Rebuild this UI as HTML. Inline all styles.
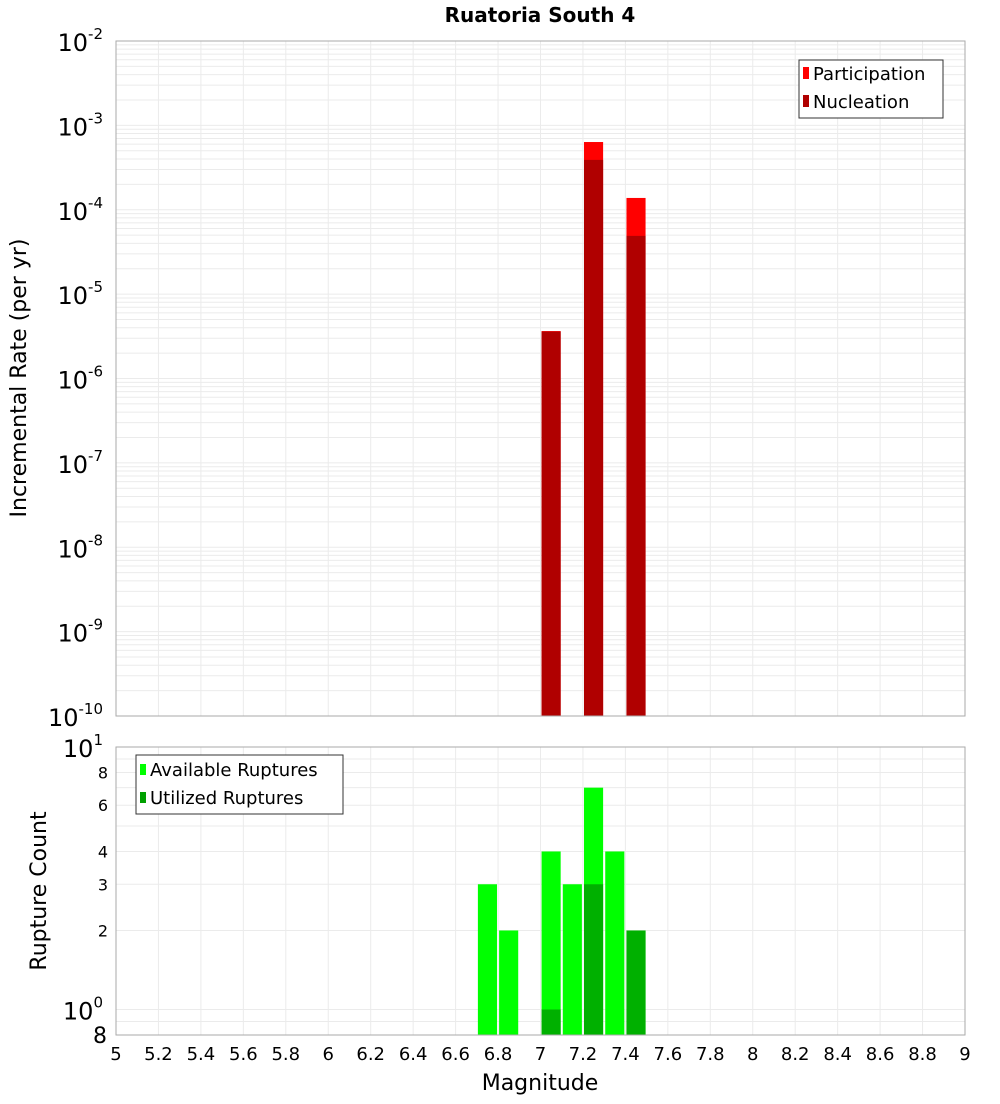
<!DOCTYPE html>
<html><head><meta charset="utf-8"><style>
body{margin:0;background:#fff;font-family:"DejaVu Sans","Liberation Sans",sans-serif}
</style></head><body>
<svg id="chart" width="1000" height="1100" xmlns="http://www.w3.org/2000/svg" font-family="DejaVu Sans, Liberation Sans, sans-serif">
<text x="540" y="22" text-anchor="middle" font-size="20" font-weight="bold">Ruatoria South 4</text>
<g id="topg"></g><g id="botg"></g>
<text transform="translate(26,378) rotate(-90)" text-anchor="middle" font-size="22">Incremental Rate (per yr)</text>
<text transform="translate(46,891) rotate(-90)" text-anchor="middle" font-size="22">Rupture Count</text>
<text x="540" y="1090" text-anchor="middle" font-size="22">Magnitude</text>
</svg>
<script>
const mags=[6.75,6.85,7.05,7.15,7.25,7.35,7.45];
const participation=[0,0,3.65e-6,0,6.35e-4,0,1.38e-4];
const nucleation=[0,0,3.6e-6,0,3.9e-4,0,4.9e-5];
const available=[3,2,4,3,7,4,2];
const utilized=[0,0,1,0,3,0,2];
const xTicks=[5,5.2,5.4,5.6,5.8,6,6.2,6.4,6.6,6.8,7,7.2,7.4,7.6,7.8,8,8.2,8.4,8.6,8.8,9];
const NS="http://www.w3.org/2000/svg";
const L=116,R=965;
const x=m=>L+(m-5)*(R-L)/4;
const yT=v=>41+(-2-Math.log10(v))*84.375;
const yB=v=>747+(1-Math.log10(v))*262.5;
const bw=0.09;
function el(p,t,a){const e=document.createElementNS(NS,t);for(const k in a)e.setAttribute(k,a[k]);p.appendChild(e);return e;}
const topG=document.getElementById('topg'),botG=document.getElementById('botg');
for(let m of xTicks){const g=el(topG,'line',{x1:x(m),x2:x(m),y1:41,y2:716,stroke:'#ebebeb'});

}
for(let e=-10;e<-2;e++)for(let k=1;k<10;k++){const yy=yT(k*Math.pow(10,e));const g=el(topG,'line',{x1:L,x2:R,y1:yy,y2:yy,stroke:'#ebebeb'});

}
for(let e=-10;e<=-2;e++){const t=el(topG,'text',{x:103,y:yT(Math.pow(10,e))+10,'text-anchor':'end','font-size':24});


t.innerHTML='10<tspan dy="-12" font-size="15">'+e+'</tspan>';}
mags.forEach((m,i)=>{
if(participation[i]>0){const r=el(topG,'rect',{x:x(m-bw/2),y:yT(participation[i]),width:x(m+bw/2)-x(m-bw/2),height:716-yT(participation[i]),fill:'#ff0000'});

}
if(nucleation[i]>0){const r=el(topG,'rect',{x:x(m-bw/2),y:yT(nucleation[i]),width:x(m+bw/2)-x(m-bw/2),height:716-yT(nucleation[i]),fill:'#b00000'});

}
});
el(topG,'rect',{x:L,y:41,width:R-L,height:675,fill:'none',stroke:'#aaa'});
const lg=el(topG,'g',{});


el(lg,'rect',{x:799,y:60,width:144,height:58,fill:'#fff',stroke:'#333'});
el(lg,'rect',{x:803,y:67,width:6,height:12,fill:'#ff0000'});
el(lg,'rect',{x:803,y:95,width:6,height:12,fill:'#b00000'});
const t1=el(lg,'text',{x:813,y:80,'font-size':18});t1.textContent='Participation';
const t2=el(lg,'text',{x:813,y:108,'font-size':18});t2.textContent='Nucleation';
for(let m of xTicks){const g=el(botG,'line',{x1:x(m),x2:x(m),y1:747,y2:1035,stroke:'#ebebeb'});

}
[0.9,1,2,3,4,5,6,7,8,9].forEach(v=>{const g=el(botG,'line',{x1:L,x2:R,y1:yB(v),y2:yB(v),stroke:'#ebebeb'});

});
[2,3,4,6,8].forEach(v=>{const t=el(botG,'text',{x:108,y:yB(v)+6,'text-anchor':'end','font-size':16});


t.textContent=v;});
[[10,'1'],[1,'0']].forEach(([v,e])=>{const t=el(botG,'text',{x:103,y:yB(v)+10,'text-anchor':'end','font-size':24});


t.innerHTML='10<tspan dy="-12" font-size="15">'+e+'</tspan>';});
const t8=el(botG,'text',{x:107,y:1043,'text-anchor':'end','font-size':22});t8.textContent='8';
mags.forEach((m,i)=>{
if(available[i]>0){const r=el(botG,'rect',{x:x(m-bw/2),y:yB(available[i]),width:x(m+bw/2)-x(m-bw/2),height:1035-yB(available[i]),fill:'#00ff00'});

}
if(utilized[i]>0){const r=el(botG,'rect',{x:x(m-bw/2),y:yB(utilized[i]),width:x(m+bw/2)-x(m-bw/2),height:1035-yB(utilized[i]),fill:'#00b000'});

}
});
el(botG,'rect',{x:L,y:747,width:R-L,height:288,fill:'none',stroke:'#aaa'});
xTicks.forEach(m=>{const t=el(botG,'text',{x:x(m),y:1060,'text-anchor':'middle','font-size':18});


t.textContent=String(m);});
const lg2=el(botG,'g',{});


el(lg2,'rect',{x:136,y:755,width:207,height:59,fill:'#fff',stroke:'#333'});
el(lg2,'rect',{x:140,y:764,width:6,height:11,fill:'#00ff00'});
el(lg2,'rect',{x:140,y:792,width:6,height:11,fill:'#00a000'});
const t3=el(lg2,'text',{x:150,y:776,'font-size':18});t3.textContent='Available Ruptures';
const t4=el(lg2,'text',{x:150,y:804,'font-size':18});t4.textContent='Utilized Ruptures';
</script>
</body></html>
